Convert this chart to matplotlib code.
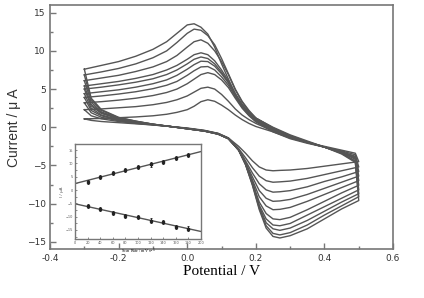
import numpy as np
import matplotlib.pyplot as plt
from matplotlib.ticker import MultipleLocator

# potentials for the forward (upper) and reverse (lower) branches, V
v_up = [-0.3, -0.25, -0.2, -0.15, -0.1, -0.06, -0.03, 0.0, 0.02, 0.04, 0.06, 0.08,
        0.1, 0.12, 0.14, 0.16, 0.18, 0.2, 0.25, 0.3, 0.35, 0.4, 0.45, 0.49]
v_down = [0.5, 0.45, 0.4, 0.35, 0.3, 0.27, 0.25, 0.23, 0.21, 0.19, 0.17, 0.15,
          0.12, 0.09, 0.05, 0.0, -0.05, -0.1, -0.15, -0.2, -0.25, -0.28, -0.3]

# currents (uA), one list per scan rate, smallest to largest
i_up = [
    [1.1, 1.15, 1.25, 1.35, 1.5, 1.7, 1.95, 2.3, 2.75, 3.35, 3.6, 3.4, 2.9, 2.3, 1.6, 1.0, 0.5, 0.1, -0.6, -1.4, -2.0, -2.5, -3.0, -3.4],
    [2.3, 2.4, 2.55, 2.7, 2.95, 3.25, 3.6, 4.1, 4.6, 5.1, 5.25, 5.0, 4.3, 3.4, 2.4, 1.6, 1.0, 0.5, -0.5, -1.4, -2.0, -2.6, -3.1, -3.6],
    [3.2, 3.35, 3.55, 3.8, 4.15, 4.55, 5.0, 5.7, 6.3, 6.9, 7.15, 6.9, 6.2, 5.2, 3.8, 2.5, 1.5, 0.7, -0.6, -1.5, -2.1, -2.6, -3.2, -3.8],
    [3.9, 4.1, 4.35, 4.65, 5.05, 5.5, 6.0, 6.8, 7.4, 7.9, 7.95, 7.5, 6.6, 5.5, 4.0, 2.6, 1.6, 0.8, -0.5, -1.4, -2.0, -2.6, -3.2, -3.9],
    [4.4, 4.65, 4.9, 5.25, 5.7, 6.2, 6.8, 7.6, 8.2, 8.65, 8.6, 8.0, 7.0, 5.8, 4.2, 2.8, 1.7, 0.9, -0.4, -1.3, -2.0, -2.6, -3.3, -4.0],
    [5.0, 5.25, 5.55, 5.9, 6.35, 6.9, 7.5, 8.3, 8.9, 9.2, 9.0, 8.3, 7.2, 5.9, 4.3, 2.9, 1.8, 1.0, -0.3, -1.3, -2.0, -2.6, -3.3, -4.1],
    [5.4, 5.7, 6.0, 6.4, 6.9, 7.5, 8.1, 8.9, 9.5, 9.75, 9.5, 8.7, 7.5, 6.1, 4.4, 3.0, 1.9, 1.1, -0.2, -1.2, -1.9, -2.6, -3.3, -4.2],
    [6.1, 6.45, 6.8, 7.3, 7.9, 8.6, 9.4, 10.5, 11.2, 11.45, 11.0, 10.0, 8.6, 6.9, 4.9, 3.3, 2.1, 1.2, -0.1, -1.1, -1.9, -2.6, -3.4, -4.4],
    [6.85, 7.25, 7.7, 8.3, 9.1, 10.0, 11.1, 12.3, 12.85, 12.7, 12.0, 10.8, 9.0, 7.0, 5.0, 3.4, 2.2, 1.2, -0.1, -1.1, -1.9, -2.6, -3.4, -4.5],
    [7.6, 8.1, 8.6, 9.3, 10.2, 11.2, 12.3, 13.4, 13.55, 13.1, 12.2, 10.5, 8.3, 6.3, 4.4, 2.9, 2.0, 1.2, 0.0, -1.0, -1.8, -2.6, -3.5, -4.6],
]
i_down = [
    [-4.5, -4.8, -5.1, -5.4, -5.6, -5.65, -5.7, -5.6, -5.2, -4.4, -3.4, -2.5, -1.4, -0.8, -0.4, -0.1, 0.1, 0.3, 0.45, 0.6, 0.75, 0.9, 1.1],
    [-5.2, -5.7, -6.2, -6.7, -7.05, -7.15, -7.2, -7.0, -6.4, -5.3, -4.0, -2.8, -1.4, -0.8, -0.45, -0.15, 0.1, 0.3, 0.5, 0.75, 1.1, 1.5, 2.3],
    [-5.8, -6.5, -7.1, -7.8, -8.3, -8.45, -8.5, -8.2, -7.4, -6.0, -4.4, -2.9, -1.45, -0.85, -0.45, -0.15, 0.1, 0.35, 0.55, 0.85, 1.3, 1.9, 3.2],
    [-6.4, -7.2, -8.0, -8.8, -9.45, -9.65, -9.7, -9.3, -8.3, -6.5, -4.6, -2.9, -1.45, -0.85, -0.45, -0.15, 0.1, 0.35, 0.6, 0.9, 1.5, 2.2, 3.9],
    [-7.0, -7.9, -8.8, -9.7, -10.5, -10.75, -10.8, -10.3, -9.1, -6.9, -4.7, -3.0, -1.5, -0.85, -0.5, -0.2, 0.1, 0.35, 0.65, 1.0, 1.6, 2.5, 4.4],
    [-7.6, -8.6, -9.7, -10.8, -11.8, -12.1, -12.0, -11.3, -9.8, -7.2, -4.8, -3.0, -1.5, -0.9, -0.5, -0.2, 0.1, 0.35, 0.7, 1.1, 1.8, 2.8, 5.0],
    [-8.2, -9.3, -10.4, -11.5, -12.6, -12.9, -12.8, -12.0, -10.2, -7.3, -4.8, -3.0, -1.5, -0.9, -0.5, -0.2, 0.1, 0.4, 0.7, 1.15, 1.9, 3.0, 5.4],
    [-8.7, -9.8, -11.0, -12.2, -13.2, -13.5, -13.3, -12.5, -10.4, -7.4, -4.8, -3.0, -1.5, -0.9, -0.5, -0.2, 0.1, 0.4, 0.75, 1.2, 2.0, 3.3, 6.1],
    [-9.1, -10.3, -11.5, -12.8, -13.8, -14.1, -13.9, -12.9, -10.6, -7.5, -4.9, -3.0, -1.5, -0.9, -0.5, -0.2, 0.1, 0.4, 0.8, 1.25, 2.2, 3.6, 6.85],
    [-9.6, -10.7, -12.0, -13.3, -14.2, -14.5, -14.3, -13.2, -10.8, -7.6, -4.9, -3.0, -1.5, -0.9, -0.5, -0.2, 0.1, 0.4, 0.8, 1.3, 2.3, 3.8, 7.6],
]

# inset: peak current vs scan rate
scan_rate = [20, 40, 60, 80, 100, 120, 140, 160, 180]
ip_upper = [3.1, 5.0, 6.3, 7.4, 8.7, 9.6, 10.6, 12.1, 13.1]
ip_lower = [-5.9, -7.2, -8.7, -9.75, -10.2, -11.5, -11.9, -13.8, -14.5]
ip_err = [0.8, 0.8, 0.8, 0.8, 0.8, 0.8, 0.8, 0.8, 0.8]

line_c = '#555555'
spine_c = '#777777'

fig = plt.figure(figsize=(4.24, 2.98), dpi=100)
ax = fig.add_axes([0.118, 0.163, 0.809, 0.820])

for up, down in zip(i_up, i_down):
    ax.plot(v_up + v_down, up + down, color=line_c, lw=1.0)

ax.set_xlim(-0.4, 0.6)
ax.set_ylim(-16, 16)
ax.xaxis.set_major_locator(MultipleLocator(0.2))
ax.xaxis.set_minor_locator(MultipleLocator(0.1))
ax.yaxis.set_major_locator(MultipleLocator(5))
ax.yaxis.set_minor_locator(MultipleLocator(2.5))
ax.tick_params(which='both', direction='in', top=False, right=False,
               color=spine_c, labelsize=6.5, labelcolor='#333333', pad=3)
ax.tick_params(which='major', length=4, width=1)
ax.tick_params(which='minor', length=2.5, width=1)
ax.xaxis.set_major_formatter(plt.FuncFormatter(lambda v, p: f'{v:.1f}'))
for s in ax.spines.values():
    s.set_color(spine_c)
    s.set_linewidth(1.2)

ax.set_xlabel('Potential / V', family='Liberation Serif', fontsize=11, labelpad=2)
ax.set_ylabel('Current / μ A', family='Liberation Sans', fontsize=10,
              color='#333333', labelpad=4)

# inset
ins = fig.add_axes([0.177, 0.198, 0.297, 0.319])
xfit = np.array([0, 200])
for vals in (ip_upper, ip_lower):
    k, b = np.polyfit(scan_rate, vals, 1)
    ins.plot(xfit, k * xfit + b, color=line_c, lw=1.0)
    ins.errorbar(scan_rate, vals, yerr=ip_err, fmt='s', ms=2, color='#222222',
                 ecolor='#222222', elinewidth=0.8, capsize=1, capthick=0.6)
ins.set_xlim(0, 200)
ins.set_ylim(-18.4, 17.3)
ins.xaxis.set_major_locator(MultipleLocator(20))
ins.yaxis.set_major_locator(MultipleLocator(5))
ins.yaxis.set_minor_locator(MultipleLocator(2.5))
ins.tick_params(which='both', direction='in', labelsize=2.5, length=1.5,
                width=0.6, pad=1.5, color=spine_c, labelcolor='#555555')
ins.set_xlabel('Scan Rate / mV s$^{-1}$', fontsize=3, labelpad=1, family='Liberation Serif')
ins.set_ylabel('I / μA', fontsize=3, labelpad=1, color='#555555')
for s in ins.spines.values():
    s.set_color(spine_c)
    s.set_linewidth(1.0)

fig.savefig('out.png', dpi=100)
